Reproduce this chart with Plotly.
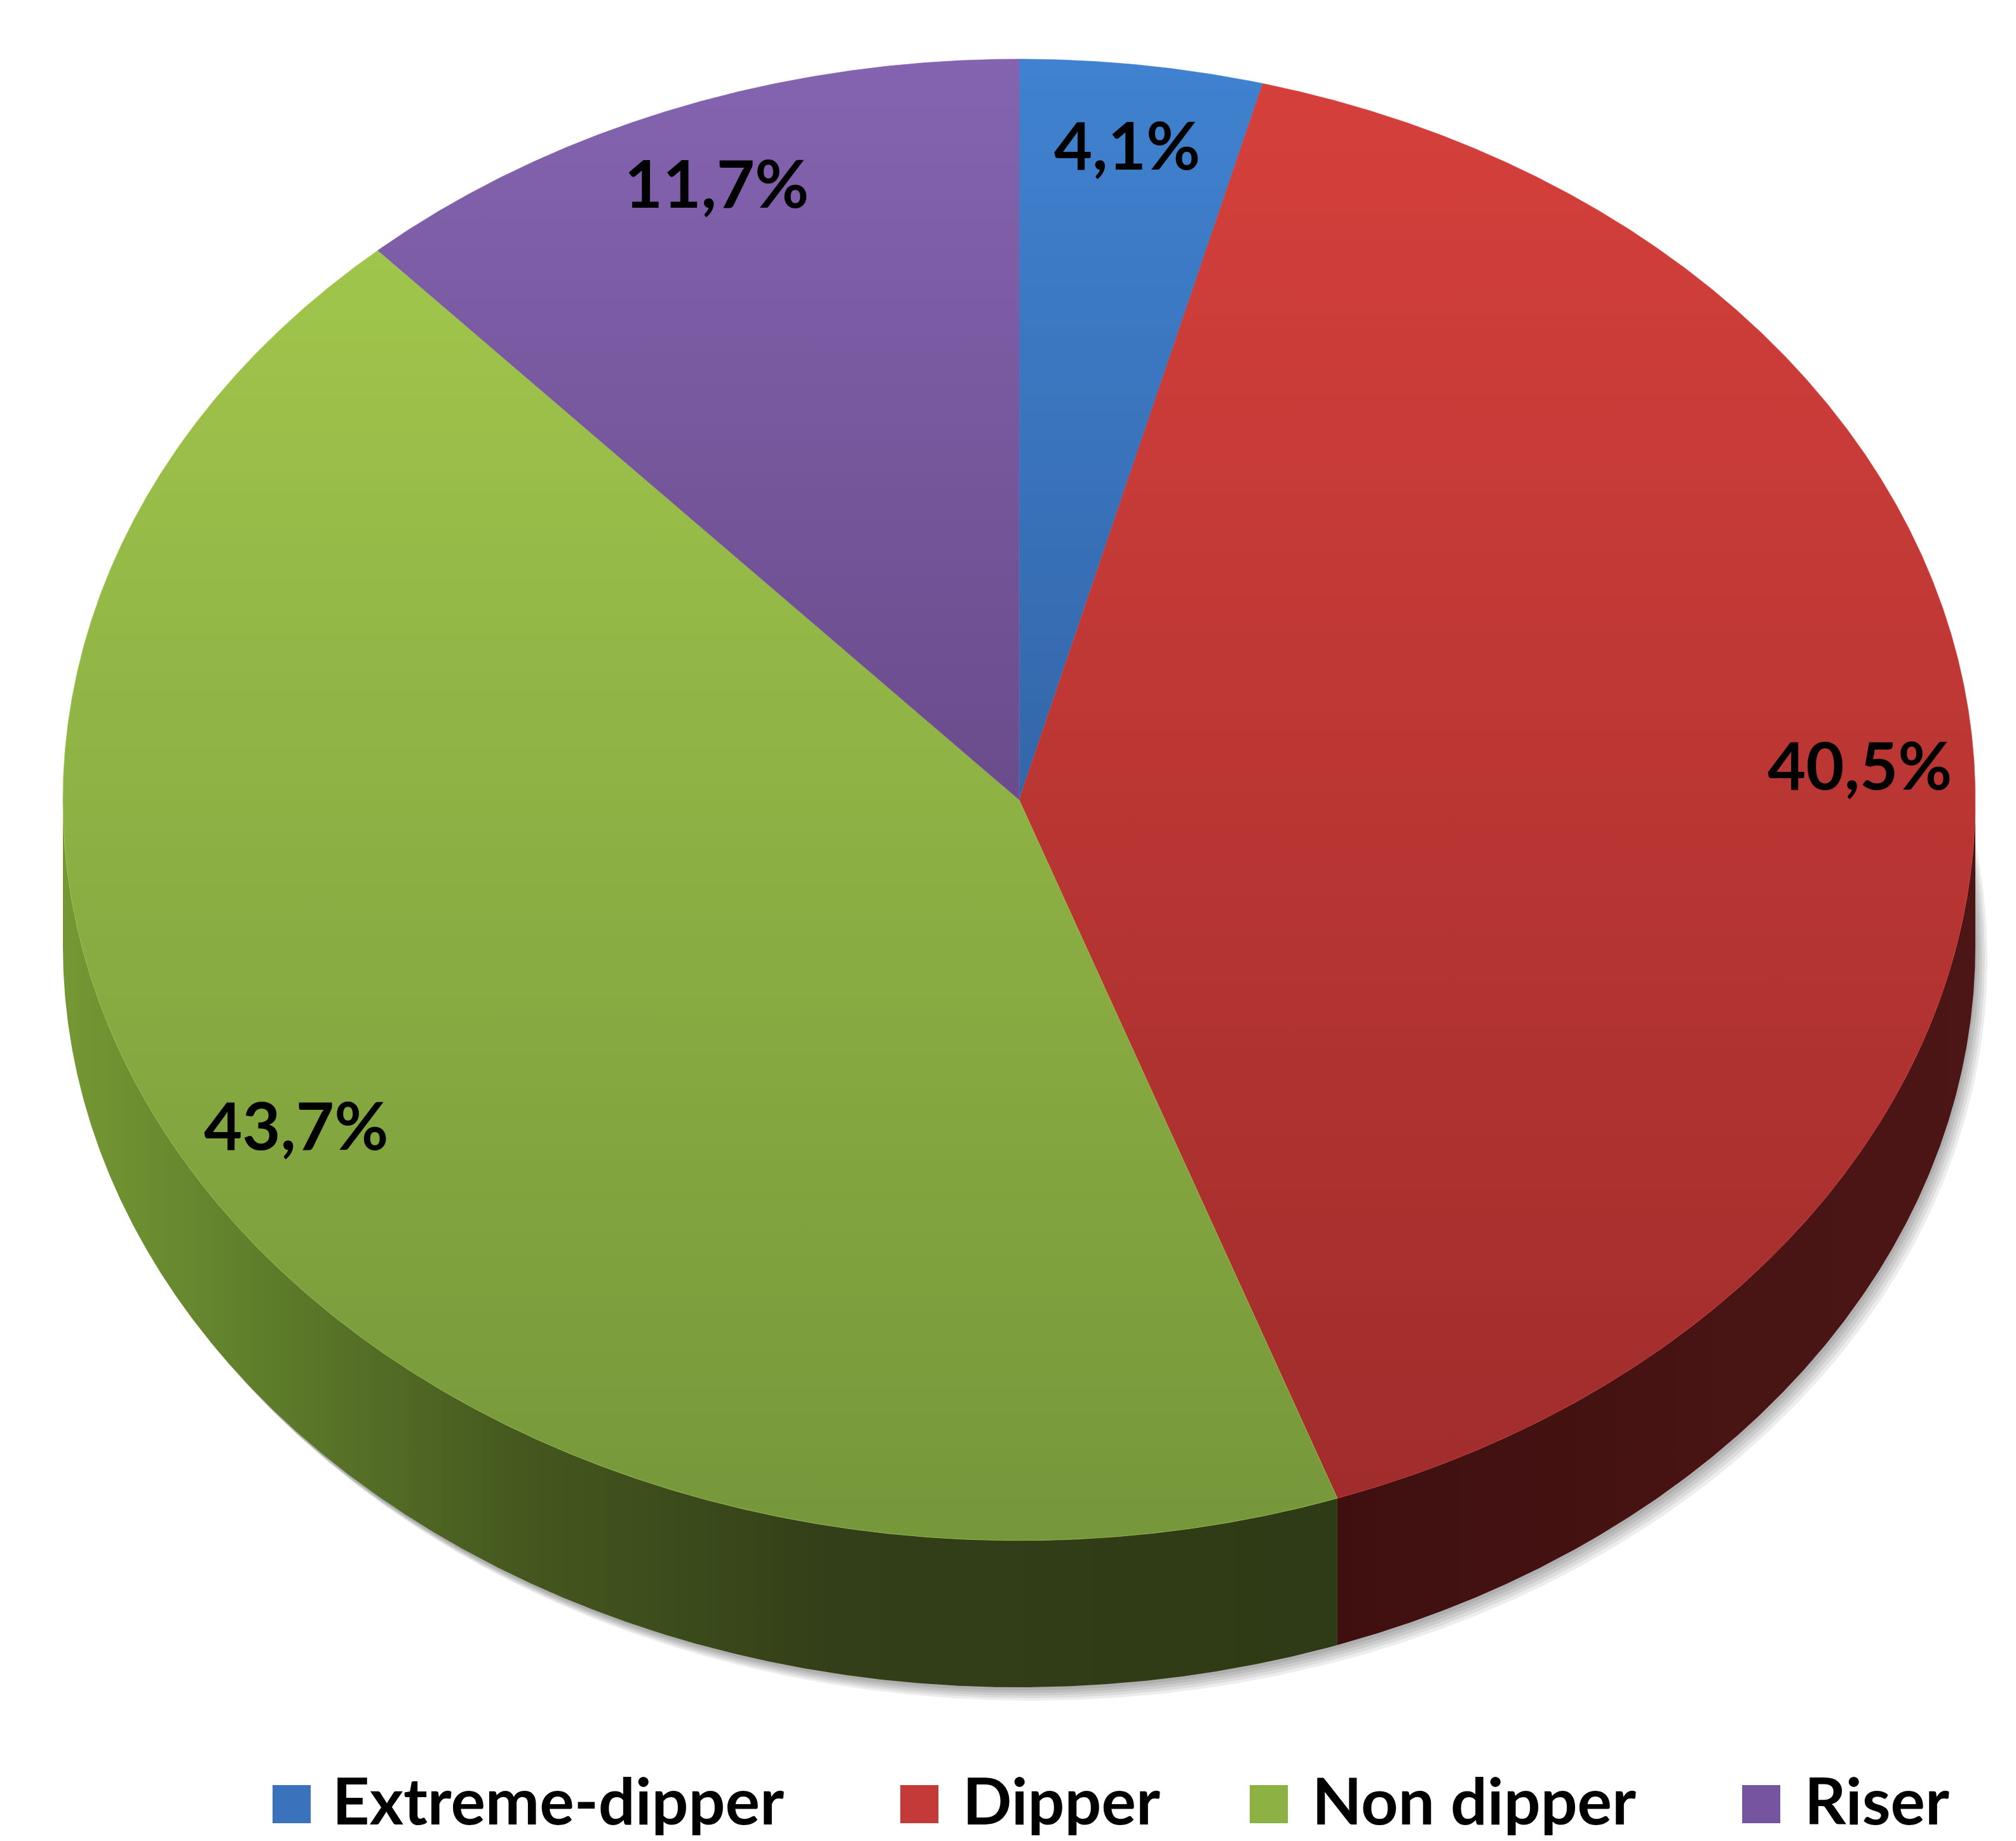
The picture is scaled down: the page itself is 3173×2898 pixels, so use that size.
import numpy as np
import plotly.graph_objects as go

# ---------------- data ----------------
categories = ["Extreme-dipper", "Dipper", "Non dipper", "Riser"]
values = [4.1, 40.5, 43.7, 11.7]

# ---------------- styles ----------------
top_light = ["#4082D0", "#D6403C", "#A7CC4E", "#8464B0"]
top_dark = ["#274A83", "#9E2C2B", "#75973A", "#503266"]
side_scales = [
    None,
    [[0, "#3F0F0F"], [0.66, "#3F0F0F"], [1, "#4D1616"]],
    [[0, "#759834"], [0.1, "#5F7F2B"], [0.233, "#46591F"], [0.4, "#333F18"], [0.7, "#2E3A15"], [1, "#2E3A15"]],
    None,
]
legend_colors = ["#3A72BB", "#C33A38", "#8DB142", "#7555A0"]
legend_sq_x = [459, 1447, 1997, 2772]
legend_txt_x = [522, 1514, 2064, 2839]
legend_sq_y = 2840

W, H = 3173, 2898
CX, CY, RX, RY, DEPTH = 1604, 1259, 1505, 1166, 231
FONT = "Lato"


def pt(theta_deg, r=1.0, dz=0.0):
    t = np.radians(theta_deg)
    return CX + r * RX * np.sin(t), CY - r * RY * np.cos(t) + dz


fig = go.Figure()

# soft shadow
th = np.linspace(0, 360, 721)
for k, (dx, dy) in enumerate([(3, 5), (7, 9), (11, 13), (15, 17), (19, 21)]):
    xs, ys = pt(th, 1.0, DEPTH)
    fig.add_trace(go.Scatter(x=xs + dx, y=ys + dy, mode="lines", fill="toself",
                             fillcolor="rgba(0,0,0,0.07)", line=dict(width=0),
                             hoverinfo="skip", showlegend=False))

total = sum(values)
bounds = np.concatenate([[0], np.cumsum(values)]) / total * 360.0

# cylinder sides (visible front half: 90..270 deg clockwise from top)
for i in range(len(values)):
    a, b = max(bounds[i], 90.0), min(bounds[i + 1], 270.0)
    if a >= b or side_scales[i] is None:
        continue
    tt = np.linspace(a, b, max(30, int((b - a) * 4)))
    x1, y1 = pt(tt)
    x2, y2 = pt(tt[::-1], 1.0, DEPTH)
    fig.add_trace(go.Scatter(
        x=np.concatenate([x1, x2]), y=np.concatenate([y1, y2]),
        mode="lines", fill="toself", line=dict(width=0),
        fillgradient=dict(type="horizontal", colorscale=side_scales[i],
                          start=CX - RX, stop=CX + RX),
        hoverinfo="skip", showlegend=False))

# top faces
for i in range(len(values)):
    a, b = bounds[i], bounds[i + 1]
    tt = np.linspace(a, b, max(30, int((b - a) * 4)))
    xa, ya = pt(tt)
    xs = np.concatenate([[CX], xa, [CX]])
    ys = np.concatenate([[CY], ya, [CY]])
    fig.add_trace(go.Scatter(
        x=xs, y=ys, mode="lines", fill="toself", line=dict(width=0.6, color=top_light[i]),
        fillgradient=dict(type="vertical",
                          colorscale=[[0, top_light[i]], [1, top_dark[i]]],
                          start=CY - RY, stop=CY + RY),
        hoverinfo="skip", showlegend=False, name=categories[i]))

# data labels
mids = (bounds[:-1] + bounds[1:]) / 2
lx, ly = pt(mids, 0.88)
labels = [f"{v:.1f}".replace(".", ",") + "%" for v in values]
fig.add_trace(go.Scatter(x=lx, y=ly, mode="text", text=labels,
                         textposition="middle center",
                         textfont=dict(family=FONT, size=104, color="black", weight="bold"),
                         hoverinfo="skip", showlegend=False))

# legend (custom, to get large square keys)
fig.add_trace(go.Scatter(x=legend_sq_x, y=[legend_sq_y] * 4, mode="markers",
                         marker=dict(symbol="square", size=60, color=legend_colors,
                                     line=dict(width=0)),
                         hoverinfo="skip", showlegend=False))
for i, cat in enumerate(categories):
    fig.add_annotation(x=legend_txt_x[i], y=H - 3, text=cat, showarrow=False,
                       xanchor="left", yanchor="bottom", borderpad=0,
                       font=dict(family=FONT, size=102, color="black", weight="bold"))

fig.update_layout(
    width=W, height=H, margin=dict(l=0, r=0, t=0, b=0),
    paper_bgcolor="white", plot_bgcolor="white",
    xaxis=dict(range=[0, W], visible=False, fixedrange=True),
    yaxis=dict(range=[H, 0], visible=False, fixedrange=True),
    showlegend=False,
)

fig.write_html("out.html")
